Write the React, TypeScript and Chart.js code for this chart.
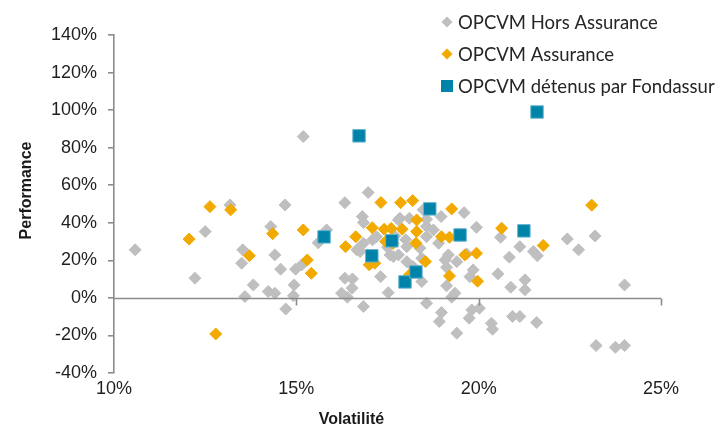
import React, { useEffect, useRef } from "react";
import { Chart, registerables } from "chart.js";

Chart.register(...registerables);

// ---- Data (volatility %, performance %) ----
const horsAssuranceX = [
  10.58, 12.22, 12.5, 13.18, 13.53, 13.5, 13.82, 13.59, 14.23, 14.41, 14.3, 14.41, 14.57, 14.69, 14.71,
  14.98, 14.94, 14.92, 15.15, 15.19, 15.6, 15.83,
  16.33, 16.33, 16.54, 16.24, 16.4, 16.53, 16.84, 16.97, 16.81, 16.84, 16.66, 16.75, 16.84, 17.2, 17.09,
  17.31, 17.52, 17.66, 17.8, 17.57, 17.8, 17.7, 18.0, 17.5,
  17.84, 18.1, 18.57, 18.97, 18.48, 18.57, 18.76, 18.57, 18.9, 18.39, 18.03, 18.03, 18.44, 18.2, 18.44,
  18.57, 18.98, 18.92, 19.4, 19.6, 19.94, 19.17, 19.08, 19.4, 19.67, 19.85, 19.76, 19.12, 19.12, 19.35,
  19.26, 19.81, 20.02, 19.74, 20.35, 20.38, 20.93, 21.13, 21.59,
  20.53, 20.88, 21.27, 21.27, 20.84, 21.13, 21.5, 21.61, 20.6, 22.43, 22.74, 23.19, 23.22, 23.75, 24.0, 24.0,
];
const horsAssuranceY = [
  25.6, 10.5, 35.3, 49.5, 25.6, 18.5, 6.9, 0.7, 3.4, 2.5, 38.0, 22.9, 15.3, 49.5, -5.9,
  15.3, 6.9, 1.1, 17.6, 85.9, 29.3, 36.2,
  50.7, 10.5, 10.1, 2.5, 0.4, 5.2, -4.6, 56.1, 43.3, 40.1, 25.6, 24.7, 29.1, 32.6, 30.9,
  11.3, 2.8, 22.0, 41.5, 22.9, 22.9, 33.0, 31.0, 27.0,
  42.4, 42.4, 41.9, 43.3, 46.9, 38.0, 36.2, 32.6, 29.1, 26.5, 27.3, 19.3, 21.1, 16.7, 8.7,
  -2.8, -7.8, -12.6, -18.8, 45.4, 37.6, 22.9, 20.2, 19.3, 23.4, 14.9, 11.3, 16.3, 6.4, 2.5,
  0.4, -6.4, -5.5, -10.8, -13.5, -16.7, -9.9, -9.9, -13.1,
  12.8, 5.7, 9.6, 4.3, 21.7, 27.3, 24.7, 22.4, 32.3, 31.4, 25.6, 33.0, -25.4, -26.3, -25.4, 6.9,
];

const assuranceX = [
  12.06, 12.63, 13.2, 12.79, 13.71, 14.35, 15.19, 15.3, 15.41, 16.35, 16.63, 17.08, 17.0, 17.15,
  17.32, 17.86, 18.19, 19.26, 18.3, 17.41, 17.6, 17.9, 18.3, 17.45, 17.65, 18.28, 18.98, 19.2,
  18.54, 19.62, 19.94, 18.1, 19.2, 19.97, 20.63, 21.77, 23.1,
];
const assuranceY = [
  31.3, 48.6, 46.9, -19.2, 22.5, 34.2, 36.2, 20.2, 13.1, 27.3, 32.6, 37.4, 17.6, 18.5,
  50.8, 50.7, 51.8, 47.4, 41.5, 36.6, 37.0, 36.6, 35.3, 30.0, 29.0, 29.1, 32.6, 32.3,
  19.3, 22.9, 23.8, 12.2, 11.7, 8.9, 37.1, 27.9, 49.4,
];

const fondassurX = [15.76, 16.72, 17.07, 17.62, 17.98, 18.28, 18.66, 19.49, 21.24, 21.6];
const fondassurY = [32.5, 86.3, 22.4, 30.4, 8.5, 13.8, 47.4, 33.5, 35.7, 99.0];

const seriesLabels = ["OPCVM Hors Assurance", "OPCVM Assurance", "OPCVM détenus par Fondassur"];
const xTitle = "Volatilité";
const yTitle = "Performance";

const GRAY = "#BFBFBF";
const ORANGE = "#F2A900";
const BLUE = "#0083A9";
const AXIS = "#8C8C8C";

function pts(xs: number[], ys: number[]) {
  return xs.map((x, i) => ({ x, y: ys[i] }));
}

const zeroLinePlugin = {
  id: "zeroLine",
  afterDatasetsDraw(chart: any) {
    const { ctx } = chart;
    const xs = chart.scales.x;
    const ys = chart.scales.y;
    const y0 = Math.round(ys.getPixelForValue(0)) + 0.5;
    ctx.save();
    ctx.strokeStyle = AXIS;
    ctx.lineWidth = 1.6;
    ctx.beginPath();
    ctx.moveTo(xs.left, y0);
    ctx.lineTo(xs.right, y0);
    xs.ticks.forEach((t: any) => {
      const px = Math.round(xs.getPixelForValue(t.value)) + 0.5;
      if (px > xs.left + 2) {
        ctx.moveTo(px, y0);
        ctx.lineTo(px, y0 + 7);
      }
    });
    ctx.stroke();
    ctx.restore();
  },
};

const textPlugin = {
  id: "titlesLegend",
  afterDraw(chart: any) {
    const { ctx, chartArea } = chart;
    ctx.save();
    // axis titles
    ctx.fillStyle = "#1a1a1a";
    ctx.font = "bold 16px 'Liberation Sans', Arial, sans-serif";
    ctx.textAlign = "center";
    ctx.textBaseline = "middle";
    ctx.fillText(xTitle, chartArea.left + chartArea.width * 0.434, chartArea.bottom + 47);
    ctx.save();
    ctx.translate(chartArea.left - 87, chartArea.top + chartArea.height * 0.46);
    ctx.rotate(-Math.PI / 2);
    ctx.fillText(yTitle, 0, 0);
    ctx.restore();

    // legend
    const mx = chartArea.right - 214;
    const tx = mx + 11;
    ctx.font = "18.5px Lato, 'Open Sans', sans-serif";
    ctx.textAlign = "left";
    chart.data.datasets.forEach((ds: any, i: number) => {
      const yy = chartArea.top - 13 + i * 32;
      ctx.fillStyle = ds.backgroundColor;
      ctx.beginPath();
      if (ds.pointStyle === "rect") {
        ctx.rect(mx - 6, yy - 6, 12, 12);
      } else {
        ctx.moveTo(mx - 5.5, yy);
        ctx.lineTo(mx, yy - 5.5);
        ctx.lineTo(mx + 5.5, yy);
        ctx.lineTo(mx, yy + 5.5);
        ctx.closePath();
      }
      ctx.fill();
      ctx.fillStyle = "#262626";
      ctx.fillText(ds.label, tx, yy + 1);
    });
    ctx.restore();
  },
};

export default function App() {
  const ref = useRef<HTMLCanvasElement | null>(null);
  useEffect(() => {
    if (!ref.current) return;
    const chart = new Chart(ref.current, {
      type: "scatter",
      data: {
        datasets: [
          {
            label: seriesLabels[0],
            data: pts(horsAssuranceX, horsAssuranceY),
            backgroundColor: GRAY,
            borderColor: GRAY,
            borderWidth: 1,
            pointStyle: "rectRot",
            pointRadius: 6,
            order: 3,
          },
          {
            label: seriesLabels[1],
            data: pts(assuranceX, assuranceY),
            backgroundColor: ORANGE,
            borderColor: ORANGE,
            borderWidth: 1,
            pointStyle: "rectRot",
            pointRadius: 6,
            order: 2,
          },
          {
            label: seriesLabels[2],
            data: pts(fondassurX, fondassurY),
            backgroundColor: BLUE,
            borderColor: "#5fb3cf",
            borderWidth: 1,
            pointStyle: "rect",
            pointRadius: 8.8,
            order: 1,
          },
        ],
      },
      options: {
        animation: false,
        responsive: true,
        maintainAspectRatio: false,
        layout: { padding: { left: 0, top: 35, right: 59, bottom: 0 } },
        plugins: {
          legend: { display: false },
          tooltip: { enabled: false },
        },
        scales: {
          x: {
            type: "linear",
            min: 10,
            max: 25,
            afterFit: (s: any) => {
              s.height = 60;
            },
            ticks: {
              stepSize: 5,
              autoSkip: false,
              maxRotation: 0,
              padding: 5,
              color: "#1f1f1f",
              font: { size: 18, family: "'Liberation Sans', Arial, sans-serif" },
              callback: (v: any) => v + "%",
            },
            grid: { display: false, drawTicks: false, tickLength: 0 },
            border: { display: false },
          },
          y: {
            type: "linear",
            min: -40,
            max: 140,
            afterFit: (s: any) => {
              s.width = 114;
            },
            ticks: {
              stepSize: 20,
              padding: 11,
              color: "#1f1f1f",
              font: { size: 18, family: "'Liberation Sans', Arial, sans-serif" },
              callback: (v: any) => v + "%",
            },
            grid: {
              drawOnChartArea: false,
              drawTicks: true,
              tickLength: 6,
              color: AXIS,
              lineWidth: 1.6,
            },
            border: { display: true, color: AXIS, width: 1.6 },
          },
        },
      },
      plugins: [zeroLinePlugin, textPlugin],
    });
    return () => chart.destroy();
  }, []);
  return (
    <div style={{ position: "fixed", left: 0, top: 0, width: 720, height: 433, background: "#fff" }}>
      <canvas ref={ref} />
    </div>
  );
}
